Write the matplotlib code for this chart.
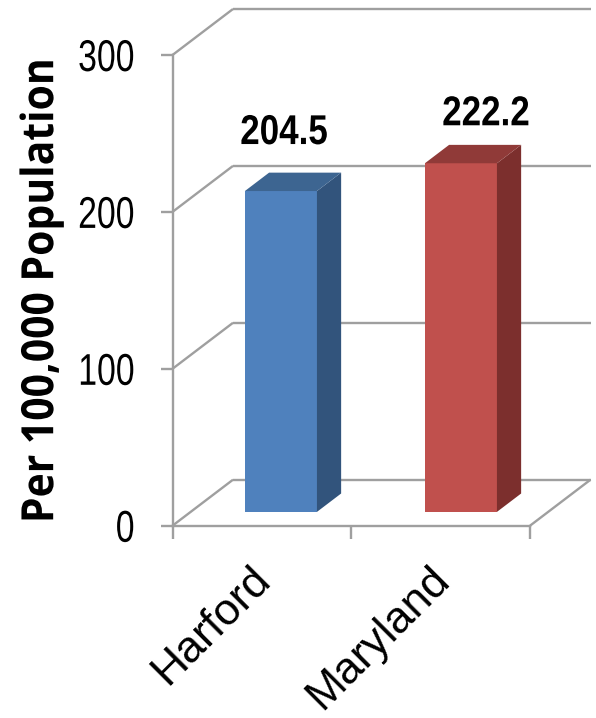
#!/usr/bin/env python3
import matplotlib
matplotlib.use('Agg')
import matplotlib.pyplot as plt
from matplotlib.patheffects import AbstractPathEffect
from matplotlib.transforms import Affine2D

# Chart data
categories = ['Harford', 'Maryland']
values = [204.5, 222.2]
y_ticks = [0, 100, 200, 300]

# Face colours of each bar: front, side, top
front_colors = ['#4f81bd', '#c0504d']
side_colors = ['#32547c', '#7c2f2d']
top_colors = ['#3d6591', '#903a38']
grid_color = '#9f9f9f'

W, H = 596, 718

fig = plt.figure(figsize=(W / 100, H / 100), dpi=100)
ax = fig.add_axes([172.5 / W, (H - 525.7) / H, 357.5 / W, 470.7 / H])
ax.set_xlim(-0.5, 1.5)
ax.set_ylim(0, 300)


# No narrow font is installed, so squeeze the glyphs along the baseline
class Squeeze(AbstractPathEffect):
    def __init__(self, sx, anchor='center'):
        super().__init__()
        self.sx = sx
        self.anchor = anchor

    def draw_path(self, renderer, gc, tpath, affine, rgbFace=None):
        box = tpath.get_extents()
        ref = box.x1 if self.anchor == 'right' else (box.x0 + box.x1) / 2
        squeeze = Affine2D().translate(-ref, 0).scale(self.sx, 1).translate(ref, 0)
        renderer.draw_path(gc, tpath, squeeze + affine, rgbFace)


# Fake 3D: depth 0 is the front plane, depth 1 the back wall
depth_x = 60.5 / 178.75
depth_y = 46 / 1.569


def proj(x, y, d):
    return x + d * depth_x, y + d * depth_y


def line3d(p0, p1):
    x0, y0 = proj(*p0)
    x1, y1 = proj(*p1)
    ax.plot([x0, x1], [y0, y1], color=grid_color, lw=1.7, clip_on=False, zorder=1,
            solid_capstyle='butt')


# Back wall gridlines and the diagonals running to them
for v in y_ticks:
    line3d((-0.5, v, 1), (1.5, v, 1))
    line3d((-0.5, v, 0), (-0.5, v, 1))
line3d((1.5, 0, 0), (1.5, 0, 1))

# Bars sit between these depths
bar_x = [0.005, 1.012]
bar_width = 0.403
d0, d1 = 0.3, 0.7

for i, v in enumerate(values):
    left = bar_x[i] - bar_width / 2
    right = bar_x[i] + bar_width / 2
    x, y = proj(bar_x[i], 0, d0)
    ax.bar(x, v, bar_width, bottom=y, color=front_colors[i], zorder=3, clip_on=False)
    side = [proj(right, 0, d0), proj(right, 0, d1), proj(right, v, d1), proj(right, v, d0)]
    top = [proj(left, v, d0), proj(left, v, d1), proj(right, v, d1), proj(right, v, d0)]
    ax.fill(*zip(*side), color=side_colors[i], lw=0, zorder=3, clip_on=False)
    ax.fill(*zip(*top), color=top_colors[i], lw=0, zorder=3, clip_on=False)

# Value labels were placed by hand in the original, so they sit unevenly
label_nudge = [(3, 47), (25, 38)]
for i, v in enumerate(values):
    ann = ax.annotate(f'{v:.1f}', proj(bar_x[i], v, d0), xytext=label_nudge[i],
                      textcoords='offset pixels', ha='center', va='baseline', fontsize=30,
                      fontweight='bold', family='Liberation Sans', color='black',
                      annotation_clip=False, zorder=5)
    ann.set_path_effects([Squeeze(0.84)])

# Axes
for s in ['top', 'right']:
    ax.spines[s].set_visible(False)
for s in ['left', 'bottom']:
    ax.spines[s].set_color(grid_color)
    ax.spines[s].set_linewidth(1.7)
    ax.spines[s].set_zorder(2)

ax.set_yticks(y_ticks)
ax.set_xticks([-0.5, 0.5, 1.5])
ax.set_xticklabels([])
ax.set_xticks([0, 1], categories, minor=True)
ax.tick_params(axis='y', color=grid_color, width=1.7, length=9, pad=18)
ax.tick_params(axis='x', which='major', color=grid_color, width=1.7, length=9)
ax.tick_params(axis='x', which='minor', length=0, pad=26)
for t in ax.get_yticklabels():
    t.set_family('Liberation Sans')
    t.set_fontsize(32)
    t.set_path_effects([Squeeze(0.76, 'right')])
for t in ax.get_xticklabels(minor=True):
    t.set_family('Liberation Sans')
    t.set_fontsize(32)
    t.set_rotation(45)
    t.set_ha('right')
    t.set_rotation_mode('anchor')
    t.set_transform(t.get_transform() + Affine2D().translate(-12, 3))

ax.set_ylabel('Per 100,000 Population', fontsize=32, fontweight='bold', family='Open Sans')
ax.yaxis.set_label_coords(-0.303, 0.5)
ax.yaxis.label.set_path_effects([Squeeze(0.92)])

fig.savefig('out.png', dpi=100)
